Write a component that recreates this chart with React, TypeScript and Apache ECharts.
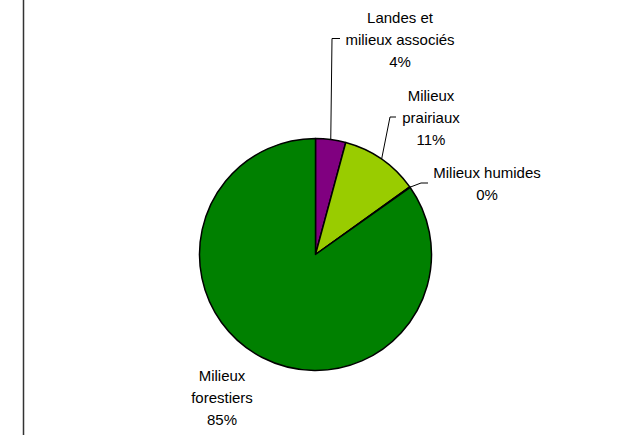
import React, { useEffect, useRef } from "react";
import * as echarts from "echarts";

const categories = ["Landes et\nmilieux associés", "Milieux\nprairiaux", "Milieux humides", "Milieux\nforestiers"];
const values = [4.2, 10.9, 0.1, 84.8];
const colors = ["#800080", "#99CC00", "#008000", "#008000"];

// label centres and leader-line elbows (layout only)
const labelCenters = [
  [400, 39],
  [431, 117],
  [487, 183.5],
  [222, 397],
];
const elbows: (number[][] | null)[] = [
  [[332, 38.5], [340, 38.5]],
  [[390, 117], [396, 117]],
  [[421, 183], [428, 183]],
  null,
];

export default function App() {
  const ref = useRef<HTMLDivElement>(null);
  useEffect(() => {
    if (!ref.current) return;
    const chart = echarts.init(ref.current, undefined, { renderer: "svg" });
    const textStyle = {
      fontFamily: "'Liberation Sans', Arial, sans-serif",
      fontSize: 15,
      color: "#000",
      lineHeight: 22,
    };
    chart.setOption({
      animation: false,
      backgroundColor: "#fff",
      graphic: [
        {
          type: "line",
          shape: { x1: 23.5, y1: 0, x2: 23.5, y2: 435 },
          style: { stroke: "#333", lineWidth: 1.5 },
          silent: true,
        },
      ],
      series: [
        {
          type: "pie",
          center: [315.5, 254.5],
          radius: 116,
          startAngle: 90,
          clockwise: true,
          percentPrecision: 0,
          avoidLabelOverlap: false,
          minAngle: 0,
          itemStyle: { borderColor: "#000", borderWidth: 1.5 },
          label: {
            show: true,
            position: "outside",
            formatter: "{b}\n{d}%",
            align: "center",
            ...textStyle,
          },
          labelLine: {
            show: true,
            length: 10,
            length2: 10,
            lineStyle: { color: "#000", width: 1 },
          },
          labelLayout: (params: any) => {
            const i = params.dataIndex;
            const c = labelCenters[i];
            const res: any = { x: c[0], y: c[1], align: "center", verticalAlign: "middle" };
            const e = elbows[i];
            if (e && params.labelLinePoints) {
              const s = params.labelLinePoints[0];
              res.labelLinePoints = [s, e[0], e[1]];
            }
            return res;
          },
          data: categories.map((name, i) => ({
            name,
            value: values[i],
            itemStyle: { color: colors[i] },
            labelLine: { show: elbows[i] !== null },
          })),
        },
      ],
    });
    return () => chart.dispose();
  }, []);
  return (
    <div
      ref={ref}
      style={{ position: "absolute", left: 0, top: 0, width: 623, height: 435, background: "#fff" }}
    />
  );
}
